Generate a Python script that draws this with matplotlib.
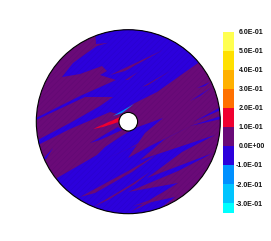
import matplotlib
matplotlib.use("Agg")
import matplotlib.pyplot as plt
from matplotlib.patches import Circle, Polygon
from matplotlib.colors import ListedColormap, BoundaryNorm
import numpy as np

plt.rcParams['hatch.linewidth'] = 0.3
plt.rcParams['font.family'] = ['Liberation Sans', 'DejaVu Sans']

W, H = 271, 241
disc_center = (128.3, 121.7)
disc_radius = 92.0
hole_radius = 9.3

level_edges = [-0.35, -0.3, -0.2, -0.1, 0.0, 0.1, 0.2, 0.3, 0.4, 0.5, 0.6]
level_colors = ['#00ffff', '#00c4ff', '#0090ff', '#2c00dc', '#6a0a78',
                '#f00030', '#ff7000', '#ffb000', '#ffe000', '#ffff50']
tick_values = [0.6, 0.5, 0.4, 0.3, 0.2, 0.1, 0.0, -0.1, -0.2, -0.3]
tick_labels = ['6.0E-01', '5.0E-01', '4.0E-01', '3.0E-01', '2.0E-01',
               '1.0E-01', '0.0E+00', '-1.0E-01', '-2.0E-01', '-3.0E-01']

BLUE, PURPLE, RED, SKY = level_colors[3], level_colors[4], level_colors[5], level_colors[2]

# Contour regions (pixel frame of the plot)
upper_region = [(95, 28), (205, 28), (198, 63), (157, 92), (133, 104), (118, 114), (110, 112),
                (70, 129), (34, 147), (34, 142), (70, 123), (100, 106), (113, 97),
                (85, 97), (34, 121), (34, 119), (80, 96), (116, 80),
                (100, 75), (107, 71), (102, 66), (80, 74), (62, 77), (73, 63), (84, 55),
                (97, 46), (108, 43), (96, 44)]
lower_region = [(57, 178), (97, 155), (105, 147), (120, 137), (135, 128), (163, 118),
                (145, 133), (128, 158), (150, 146), (193, 125),
                (165, 139), (140, 160), (215, 135),
                (182, 152), (147, 178), (213, 153),
                (178, 171), (128, 192), (178, 183), (150, 200), (133, 206), (175, 197),
                (150, 216), (90, 216), (60, 195)]
near_hole_streak = [(90, 143), (118, 127), (122, 130), (100, 140)]
purple_slivers = [
    [(110, 75), (163, 50), (125, 71)],
    [(142, 87), (172, 70), (148, 85)],
    [(125, 80), (138, 72), (128, 80)],
    [(80, 197), (130, 170), (158, 154), (132, 172), (95, 193)],
    [(93, 207), (130, 185), (150, 172), (135, 184), (108, 200)],
    [(103, 160), (130, 148), (165, 128), (135, 146)],
    [(130, 212), (158, 195), (177, 188), (160, 198)],
]
blue_slivers = [
    [(190, 101), (212, 87), (200, 96)],
    [(197, 88), (210, 82), (205, 86)],
    [(193, 122), (221, 107), (221, 110)],
    [(190, 126), (221, 116), (221, 119)],
    [(42, 160), (53, 148), (46, 159)],
]
red_sliver = [(93, 129), (120, 117), (122, 121), (103, 127)]
sky_sliver = [(113, 116), (134, 104), (122, 113)]

fig = plt.figure(figsize=(W / 100, H / 100), dpi=100)
ax = fig.add_axes([0, 0, 1, 1])
ax.set_xlim(0, W)
ax.set_ylim(H, 0)
ax.axis('off')

disc = Circle(disc_center, disc_radius, fc=PURPLE, ec='none', zorder=1)
ax.add_patch(disc)


def region(points, color, z):
    p = Polygon(points, closed=True, fc=color, ec='none', zorder=z)
    ax.add_patch(p)
    p.set_clip_path(disc)


region(upper_region, BLUE, 2)
region(lower_region, BLUE, 2)
region(near_hole_streak, BLUE, 2)
for s in purple_slivers:
    region(s, PURPLE, 3)
for s in blue_slivers:
    region(s, BLUE, 3)
region(red_sliver, RED, 4)
region(sky_sliver, SKY, 4)

# fine diagonal mesh texture
tex = Circle(disc_center, disc_radius, fc='none', ec=(0.1, 0, 0.3, 0.15), hatch='//////', lw=0, zorder=5)
ax.add_patch(tex)
ax.add_patch(Circle(disc_center, disc_radius, fc='none', ec='black', lw=0.8, zorder=6))
ax.add_patch(Circle(disc_center, hole_radius, fc='white', ec='black', lw=0.8, zorder=6))

# colour bar
cax = fig.add_axes([222.7 / W, 1 - 213 / H, 11.3 / W, 181.3 / H])
cmap = ListedColormap(level_colors)
norm = BoundaryNorm(level_edges, cmap.N)
cax.pcolormesh([0, 1], level_edges, np.array(level_edges[:-1])[:, None] + 1e-6, cmap=cmap, norm=norm)
cax.set_ylim(level_edges[0], level_edges[-1])
cax.axis('off')
for v, lab in zip(tick_values, tick_labels):
    cax.annotate(lab, xy=(0, v), xycoords=('figure pixels', 'data'),
                 xytext=(239 if not lab.startswith('-') else 236, -0.5), textcoords=('figure pixels', 'offset points'),
                 fontsize=5, fontweight='bold', va='center', ha='left', color='#111111', annotation_clip=False)

fig.savefig('out.png', dpi=100)
